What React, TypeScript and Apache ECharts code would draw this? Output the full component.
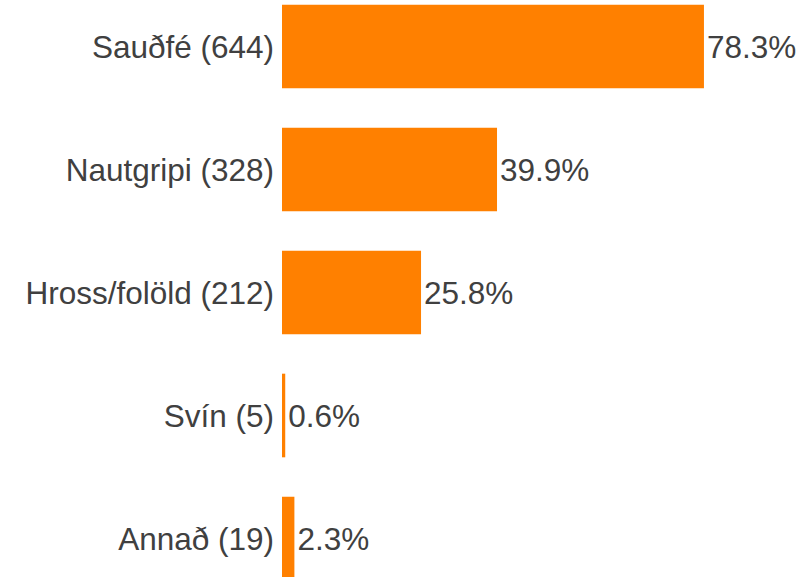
import React, { useEffect, useRef } from "react";
import * as echarts from "echarts";

const categories = ["Sauðfé (644)", "Nautgripi (328)", "Hross/folöld (212)", "Svín (5)", "Annað (19)"];
const values = [78.3, 39.9, 25.8, 0.6, 2.3];

export default function App() {
  const ref = useRef<HTMLDivElement>(null);
  useEffect(() => {
    const chart = echarts.init(ref.current!, null, { renderer: "svg" });
    chart.setOption({
      animation: false,
      grid: { left: 282, top: 0, right: 0, height: 615, containLabel: false },
      xAxis: { type: "value", min: 0, max: 97.05, show: false },
      yAxis: {
        type: "category",
        data: categories,
        inverse: true,
        axisLine: { show: false },
        axisTick: { show: false },
        axisLabel: {
          color: "#404040",
          fontSize: 31.5,
          fontFamily: "Liberation Sans, Arial, sans-serif",
          margin: 8,
        },
      },
      series: [
        {
          type: "bar",
          data: values,
          barCategoryGap: "32%",
          itemStyle: { color: "#FF8000" },
          label: {
            show: true,
            position: "right",
            distance: 3,
            formatter: (p: any) => p.value.toFixed(1) + "%",
            color: "#404040",
            fontSize: 31.5,
            fontFamily: "Liberation Sans, Arial, sans-serif",
          },
        },
      ],
    });
    return () => chart.dispose();
  }, []);
  return (
    <div style={{ position: "absolute", left: 0, top: 0, width: 805, height: 577, overflow: "hidden" }}>
      <div ref={ref} style={{ width: 805, height: 615, position: "absolute", left: 0, top: -15.5 }} />
    </div>
  );
}
